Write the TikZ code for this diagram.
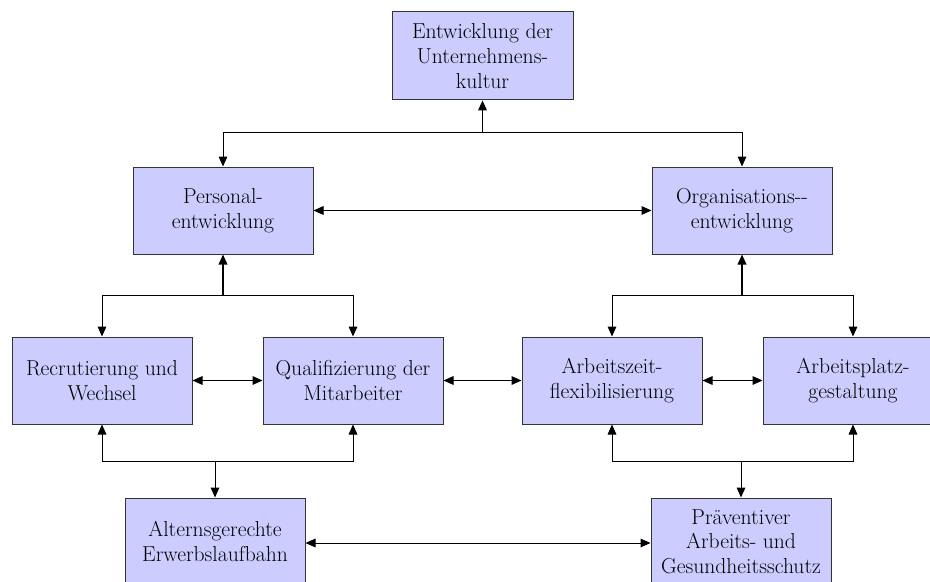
\documentclass[tikz,border=0pt]{standalone}
\usetikzlibrary{arrows.meta}
\definecolor{boxblue}{RGB}{204,204,255}

\begin{document}
\begin{tikzpicture}[>={Triangle[length=7.5pt,width=6.5pt]},x=0.75pt,y=-0.75pt,line width=0.75pt]
  \tikzstyle{block}=[draw=black!80,fill=boxblue,minimum width=135pt,minimum height=65.25pt,inner sep=0pt,align=center,font=\rmfamily\fontsize{16.2}{18.5}\selectfont]
  \tikzstyle{trunk}=[->,line width=1.2pt]

  \clip (0,0) rectangle (930,581);

  \node[block, minimum width=135.75pt, minimum height=66pt] (UK) at (482.5,56) {Entwicklung der\\Unternehmens-\\kultur};
  \node[block] (PE) at (223,210.5) {Personal-\\entwicklung};
  \node[block] (OE) at (742,210.5) {Organisations-{}-\\entwicklung};
  \node[block] (RW) at (102,380.5) {Recrutierung und\\Wechsel};
  \node[block] (QM) at (353,380.5) {Qualifizierung der\\Mitarbeiter};
  \node[block] (AZ) at (612,380.5) {Arbeitszeit-\\flexibilisierung};
  \node[block] (AP) at (853,380.5) {Arbeitsplatz-\\gestaltung};
  \node[block] (AE) at (215,541.5) {Alternsgerechte\\Erwerbslaufbahn};
  \node[block] (PA) at (741,541.5) {Präventiver\\Arbeits- und\\Gesundheitsschutz};

  \coordinate (jUK) at (482.5,133);
  \coordinate (jPE) at (223,295);
  \coordinate (jOE) at (742,295);
  \coordinate (jAE) at (215,461);
  \coordinate (jPA) at (741,461);

  \draw[trunk] (jUK) -- (UK.south);
  \draw[->] (jUK) -| (PE.north);
  \draw[->] (jUK) -| (OE.north);
  \draw[<->] (PE) -- (OE);

  \draw[trunk] (jPE) -- (PE.south);
  \draw[->] (jPE) -| (RW.north);
  \draw[->] (jPE) -| (QM.north);
  \draw[trunk] (jOE) -- (OE.south);
  \draw[->] (jOE) -| (AZ.north);
  \draw[->] (jOE) -| (AP.north);

  \draw[<->] (RW) -- (QM);
  \draw[<->] (QM) -- (AZ);
  \draw[<->] (AZ) -- (AP);

  \draw[->] (jAE) -| (RW.south);
  \draw[->] (jAE) -| (QM.south);
  \draw[->] (jAE) -- (AE.north);
  \draw[->] (jPA) -| (AZ.south);
  \draw[->] (jPA) -| (AP.south);
  \draw[->] (jPA) -- (PA.north);

  \draw[<->] (AE.east |- 0,543) -- (PA.west |- 0,543);
\end{tikzpicture}
\end{document}
